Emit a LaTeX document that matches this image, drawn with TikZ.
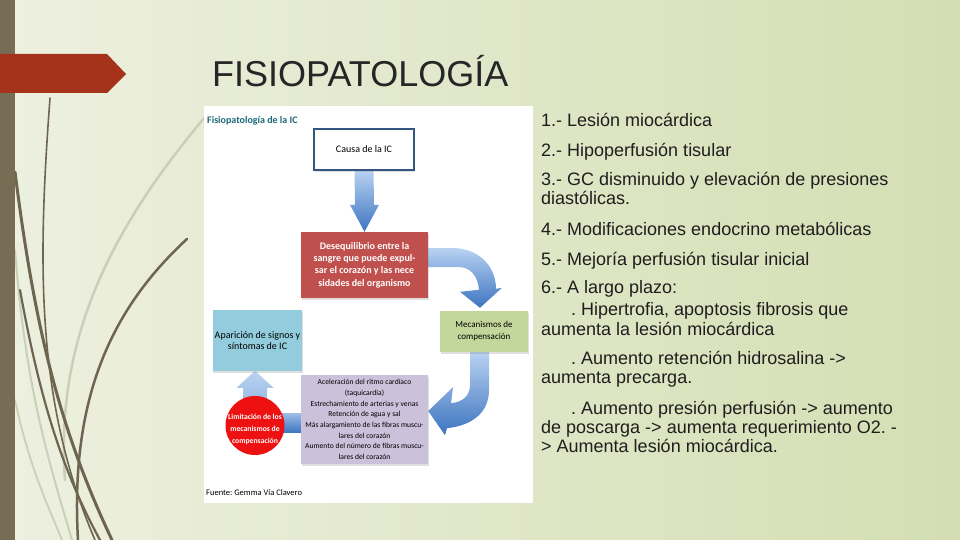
\documentclass[tikz,border=0pt]{standalone}
\usepackage{fontspec}
\setmainfont{Liberation Sans}
\newfontfamily\calib{Carlito}
\usetikzlibrary{calc,shadows}
\definecolor{bgl}{HTML}{EDF0E0}
\definecolor{bgr}{HTML}{D4DEB2}
\definecolor{barc}{HTML}{776C54}
\definecolor{banc}{HTML}{A5321A}
\definecolor{grassd}{HTML}{6D6550}
\definecolor{grassl}{HTML}{CACFB8}
\definecolor{titlec}{HTML}{262626}
\definecolor{txtc}{HTML}{1E1E1E}
\definecolor{hdrc}{HTML}{1B6A7A}
\definecolor{causab}{HTML}{34557F}
\definecolor{redc}{HTML}{C0504D}
\definecolor{grnc}{HTML}{C3D69B}
\definecolor{purc}{HTML}{CCC1DA}
\definecolor{cyanc}{HTML}{93CDDD}
\definecolor{limc}{HTML}{EE1111}
\definecolor{arrl}{HTML}{B8D2F2}
\definecolor{arrd}{HTML}{3D74C0}
\definecolor{upl}{HTML}{BCD3F0}
\definecolor{upd}{HTML}{7FA8DC}
\pgfdeclarelayer{bg}
\pgfdeclarelayer{mid}
\pgfsetlayers{bg,mid,main}
\frenchspacing
\tikzset{
  grassdark/.style={draw=grassd,line width=#1,line cap=round},
  grasslight/.style={draw=grassl,line width=#1,line cap=round},
  rt/.style={anchor=base west,inner sep=0pt,text=txtc,font=\fontsize{18}{20}\selectfont},
  dbox/.style={inner sep=2pt,align=center,drop shadow={shadow xshift=0.6pt,shadow yshift=-1.8pt,opacity=0.25}},
  fatarrow/.style={top color=arrl,bottom color=arrd},
}
\begin{document}
\begin{tikzpicture}[x=1pt,y=-1pt]
\useasboundingbox (0,0) rectangle (960,540);
\begin{pgfonlayer}{bg}
\shade[left color=bgl,right color=bgr] (0,0) rectangle (960,540);
% grass
\draw[grasslight=2.5] (205,117) .. controls (110,230) and (55,340) .. (65,480);
\draw[grasslight=2] (15,250) .. controls (25,380) and (45,450) .. (72,540);
\draw[grasslight=1.8] (15,400) .. controls (30,470) and (50,510) .. (62,540);
\draw[grassdark=1.6] (50,98) .. controls (38,260) and (35,400) .. (95,540);
\draw[grassdark=3] (15,172) .. controls (35,330) and (60,430) .. (112,540);
\draw[grassdark=2.2] (20,290) .. controls (40,400) and (62,470) .. (100,540);
\draw[grassdark=2.5] (187,239) .. controls (110,310) and (70,400) .. (78,540);
\fill[barc] (0,0) rectangle (15,540);
\fill[banc] (0,54) -- (107,54) -- (126,74) -- (107,93) -- (0,93) -- cycle;
\fill[white] (204,106) rectangle (533,503);
\end{pgfonlayer}

\node[anchor=base west,inner sep=0pt,text=titlec,font=\fontsize{36}{36}\selectfont] (title) at (212,87) {FISIOPATOLOGÍA};

\node[anchor=base west,inner sep=0pt,text=hdrc,font=\calib\bfseries\fontsize{10}{12}\selectfont] (hdr) at (207,124) {Fisiopatología de la IC};

\node[dbox,draw=causab,line width=1.4pt,fill=white,minimum width=100pt,minimum height=41pt,font=\calib\fontsize{10}{12}\selectfont] (causa) at (364,149.5) {Causa de la IC};

\node[dbox,fill=redc,text=white,minimum width=127pt,minimum height=66pt,font=\calib\bfseries\fontsize{10}{12.3}\selectfont] (red) at (364.5,265) {Desequilibrio entre la\\sangre que puede expul-\\sar el corazón y las nece\\sidades del organismo};

\node[dbox,fill=grnc,minimum width=88pt,minimum height=41pt,font=\calib\fontsize{9}{12}\selectfont] (grn) at (484,331.5) {Mecanismos de\\compensación};

\node[dbox,fill=purc,minimum width=127pt,minimum height=89pt,font=\calib\fontsize{7.6}{10.7}\selectfont] (pur) at (364.5,419.5) {Aceleración del ritmo cardíaco\\(taquicardia)\\Estrechamiento de arterias y venas\\Retención de agua y sal\\Más alargamiento de las fibras muscu-\\lares del corazón\\Aumento del número de fibras muscu-\\lares del corazón};

\node[dbox,fill=cyanc,minimum width=87pt,minimum height=61pt,font=\calib\fontsize{10}{11.5}\selectfont] (cyan) at (257.5,340.5) {Aparición de signos y\\síntomas de IC};

\node[circle,fill=limc,minimum size=59pt,inner sep=0pt] (lim) at (255,425.5) {};
\node[align=center,inner sep=0pt,text=white,font=\calib\bfseries\fontsize{7.7}{12}\selectfont] (limtxt) at ($(lim.center)+(0,3.5)$) {Limitación de los\\mecanismos de\\compensación};

\node[anchor=base west,inner sep=0pt,font=\calib\fontsize{8.5}{10}\selectfont] (src) at (206,495) {Fuente: Gemma Vía Clavero};

\begin{pgfonlayer}{mid}
% Causa -> Desequilibrio
\shade[fatarrow] ($(causa.south)+(-9.5,0)$) -- ($(causa.south)+(9.5,0)$) -- ($(red.north)+(9.5,-27)$) -- ($(red.north)+(14.5,-27)$) -- (red.north) -- ($(red.north)+(-14.5,-27)$) -- ($(red.north)+(-9.5,-27)$) -- cycle;
% Desequilibrio -> Mecanismos
\shade[fatarrow] ($(red.east)+(0,-17)$) -- ($(red.east)+(24,-17)$) .. controls ($(red.east)+(50,-17)$) and ($(grn.north)+(12,-45)$) .. ($(grn.north)+(12,-22)$) -- ($(grn.north)+(18,-23)$) -- ($(grn.north)+(-4,-3)$) -- ($(grn.north)+(-24,-19)$) -- ($(grn.north)+(-5,-21)$) .. controls ($(grn.north)+(-6,-35)$) and ($(grn.north)+(-14,-44)$) .. ($(red.east)+(30,2)$) -- ($(red.east)+(0,2)$) -- cycle;
% Mecanismos -> Aceleracion
\shade[fatarrow] ($(grn.south)+(-14,0)$) -- ($(grn.south)+(-14,33)$) .. controls ($(grn.south)+(-14,44)$) and ($(grn.south)+(-22,50)$) .. ($(grn.south)+(-33,51)$) -- ($(grn.south)+(-31,35)$) -- ($(pur.east)+(0,-8.5)$) -- ($(grn.south)+(-39,83)$) -- ($(grn.south)+(-37,76)$) .. controls ($(grn.south)+(-9,73)$) and ($(grn.south)+(5,58)$) .. ($(grn.south)+(5,38)$) -- ($(grn.south)+(5,0)$) -- cycle;
% Aceleracion -> Limitacion
\shade[top color=arrl!80!arrd,bottom color=arrd] ($(pur.west)+(0,-6.5)$) rectangle ($(lim.center)+(0,7)$);
% Limitacion -> Aparicion
\shade[top color=upl,bottom color=upd] ($(lim.center)+(-12,0)$) -- ($(lim.north)+(-12,-8)$) -- ($(lim.north)+(-18.5,-8)$) -- ($(lim.north)+(0,-25)$) -- ($(lim.north)+(18.5,-8)$) -- ($(lim.north)+(12,-8)$) -- ($(lim.center)+(12,0)$) -- cycle;
\end{pgfonlayer}

% right text
\node[rt] (t1) at (541,126.5) {1.- Lesión miocárdica};
\node[rt] (t2) at (541,156.5) {2.- Hipoperfusión tisular};
\node[rt] (t3) at (541,185.5) {3.- GC disminuido y elevación de presiones};
\node[rt] (t3b) at (541,204.5) {diastólicas.};
\node[rt] (t4) at (541,235) {4.- Modificaciones endocrino metabólicas};
\node[rt] (t5) at (541,265) {5.- Mejoría perfusión tisular inicial};
\node[rt] (t6) at (541,293) {6.- A largo plazo:};
\node[rt] (t7) at (571,315.5) {. Hipertrofia, apoptosis fibrosis que};
\node[rt] (t7b) at (541,335) {aumenta la lesión miocárdica};
\node[rt] (t8) at (571,364.5) {. Aumento retención hidrosalina ->};
\node[rt] (t8b) at (541,383.5) {aumenta precarga.};
\node[rt] (t9) at (571,414) {. Aumento presión perfusión -> aumento};
\node[rt] (t9b) at (541,433) {de poscarga -> aumenta requerimiento O2. -};
\node[rt] (t9c) at (541,452) {> Aumenta lesión miocárdica.};
\end{tikzpicture}
\end{document}
